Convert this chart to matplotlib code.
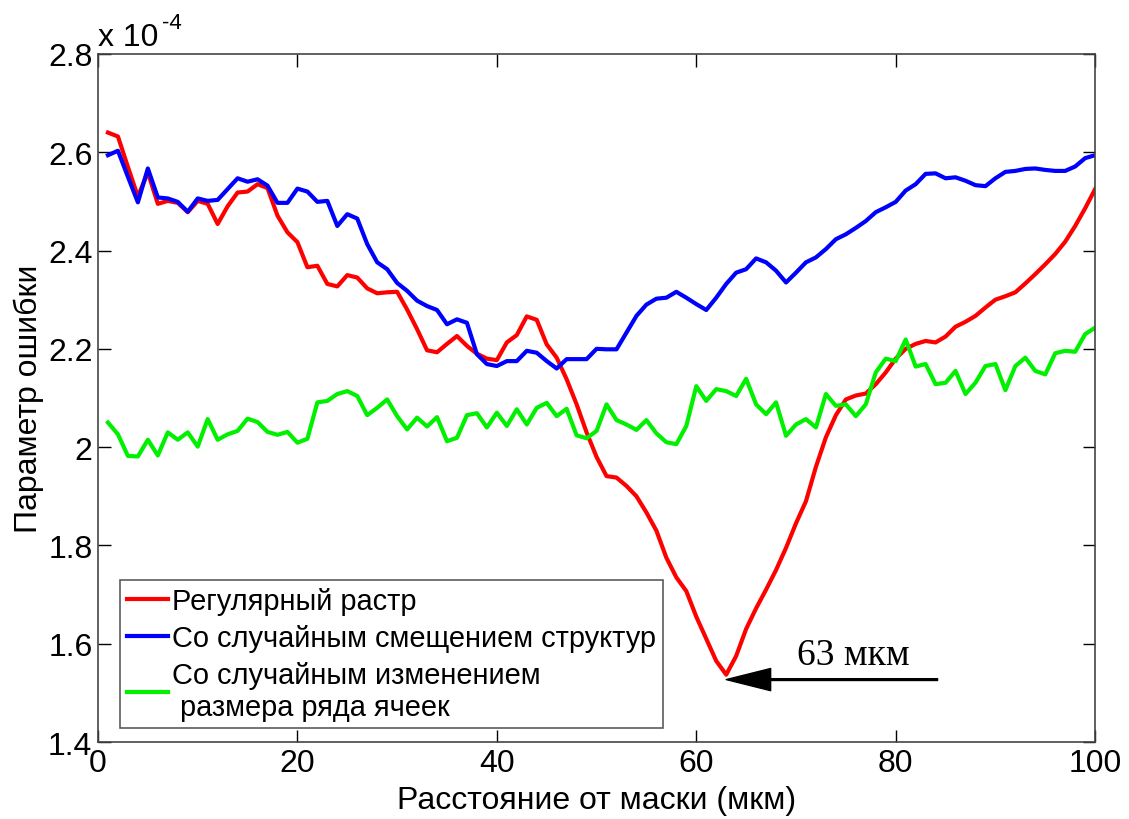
import matplotlib
matplotlib.use("Agg")
import matplotlib.pyplot as plt
import numpy as np

FONT = ['Liberation Sans Narrow', 'Liberation Sans', 'DejaVu Sans']
plt.rcParams['font.family'] = FONT

distance = list(range(1, 101))

regular = [2.640, 2.632, 2.570, 2.510, 2.559, 2.495, 2.501, 2.497, 2.478, 2.501,
           2.495, 2.454, 2.490, 2.518, 2.520, 2.535, 2.527, 2.471, 2.437, 2.417,
           2.366, 2.369, 2.332, 2.327, 2.350, 2.345, 2.323, 2.313, 2.315, 2.316,
           2.280, 2.240, 2.197, 2.193, 2.210, 2.226, 2.206, 2.190, 2.180, 2.177,
           2.213, 2.228, 2.266, 2.259, 2.209, 2.182, 2.138, 2.087, 2.030, 1.980,
           1.941, 1.938, 1.921, 1.900, 1.867, 1.830, 1.775, 1.735, 1.707, 1.655,
           1.610, 1.565, 1.537, 1.575, 1.630, 1.672, 1.710, 1.750, 1.795, 1.845,
           1.890, 1.960, 2.020, 2.065, 2.097, 2.105, 2.109, 2.128, 2.152, 2.180,
           2.200, 2.210, 2.216, 2.213, 2.225, 2.245, 2.255, 2.267, 2.284, 2.300,
           2.307, 2.315, 2.333, 2.352, 2.372, 2.393, 2.418, 2.450, 2.486, 2.525]

shifted = [2.594, 2.603, 2.550, 2.498, 2.567, 2.508, 2.506, 2.499, 2.479, 2.506,
           2.501, 2.503, 2.525, 2.547, 2.540, 2.545, 2.532, 2.497, 2.497, 2.526,
           2.520, 2.499, 2.501, 2.450, 2.474, 2.465, 2.413, 2.376, 2.362, 2.334,
           2.318, 2.298, 2.287, 2.279, 2.250, 2.260, 2.253, 2.189, 2.169, 2.165,
           2.175, 2.175, 2.196, 2.192, 2.175, 2.160, 2.179, 2.179, 2.179, 2.200,
           2.199, 2.199, 2.233, 2.267, 2.290, 2.302, 2.304, 2.316, 2.304, 2.291,
           2.279, 2.304, 2.332, 2.355, 2.362, 2.384, 2.376, 2.359, 2.335, 2.355,
           2.376, 2.386, 2.403, 2.423, 2.433, 2.446, 2.460, 2.478, 2.488, 2.499,
           2.522, 2.535, 2.556, 2.557, 2.547, 2.549, 2.542, 2.533, 2.531, 2.547,
           2.560, 2.562, 2.566, 2.567, 2.564, 2.562, 2.562, 2.571, 2.588, 2.594]

resized = [2.050, 2.026, 1.982, 1.981, 2.015, 1.983, 2.030, 2.015, 2.030, 2.001,
           2.057, 2.015, 2.026, 2.033, 2.058, 2.051, 2.031, 2.025, 2.031, 2.009,
           2.017, 2.091, 2.094, 2.108, 2.114, 2.104, 2.065, 2.080, 2.097, 2.063,
           2.036, 2.060, 2.042, 2.061, 2.012, 2.019, 2.065, 2.069, 2.040, 2.070,
           2.043, 2.077, 2.046, 2.080, 2.090, 2.063, 2.078, 2.024, 2.018, 2.033,
           2.087, 2.055, 2.046, 2.035, 2.055, 2.028, 2.010, 2.006, 2.043, 2.124,
           2.094, 2.118, 2.114, 2.104, 2.139, 2.087, 2.067, 2.091, 2.023, 2.046,
           2.057, 2.040, 2.108, 2.084, 2.087, 2.063, 2.087, 2.152, 2.180, 2.175,
           2.219, 2.164, 2.169, 2.128, 2.131, 2.155, 2.108, 2.131, 2.165, 2.169,
           2.116, 2.165, 2.182, 2.155, 2.148, 2.191, 2.196, 2.194, 2.230, 2.243]

labels = ['Регулярный растр',
          'Со случайным смещением структур',
          'Со случайным изменением\n размера ряда ячеек']
colors = ['#ff0000', '#0000ff', '#00f000']

xticks = [0, 20, 40, 60, 80, 100]
yticks = [1.4, 1.6, 1.8, 2.0, 2.2, 2.4, 2.6, 2.8]
ytick_labels = ['1.4', '1.6', '1.8', '2', '2.2', '2.4', '2.6', '2.8']

min_x, min_y = 63, 1.527

fig = plt.figure(figsize=(11.29, 8.2), dpi=100)
ax = fig.add_axes([0.0868, 0.0939, 0.8832, 0.8391])

for ys, lab, c in zip([regular, shifted, resized], labels, colors):
    ax.plot(distance, ys, color=c, lw=3.0, label=lab, solid_joinstyle='round')

ax.set_xlim(0, 100)
ax.set_ylim(1.4, 2.8)
ax.set_xticks(xticks)
ax.set_yticks(yticks)
ax.set_yticklabels(ytick_labels)
ax.tick_params(direction='in', length=9, width=1, top=True, right=True,
               labelsize=23, pad=4, colors='black')
for s in ax.spines.values():
    s.set_color('#444444')
    s.set_linewidth(1.2)

ax.set_xlabel('Расстояние от маски (мкм)', fontsize=23, labelpad=5)
ax.set_ylabel('Параметр ошибки', fontsize=23, labelpad=3)

ax.text(0.0, 1.003, 'x 10', transform=ax.transAxes, fontsize=23,
        ha='left', va='bottom')
ax.text(0.064, 1.03, '-4', transform=ax.transAxes, fontsize=16,
        ha='left', va='bottom')

ax.annotate('', xy=(min_x, min_y), xytext=(84.2, min_y),
            arrowprops=dict(facecolor='black', edgecolor='black', width=1.3,
                            headwidth=16, headlength=32, shrink=0))
ax.text(75.7, 1.577, '63 мкм', fontsize=27, ha='center', va='center',
        family=['Liberation Serif', 'DejaVu Serif'])

leg = ax.legend(loc='lower left', bbox_to_anchor=(0.022, 0.02), fontsize=20.9,
                frameon=True, fancybox=False, edgecolor='#333333',
                handlelength=1.4, handletextpad=0.15, borderpad=0.25,
                labelspacing=0.3, borderaxespad=0)
leg.get_frame().set_linewidth(1.2)

fig.savefig('out.png', dpi=100)
